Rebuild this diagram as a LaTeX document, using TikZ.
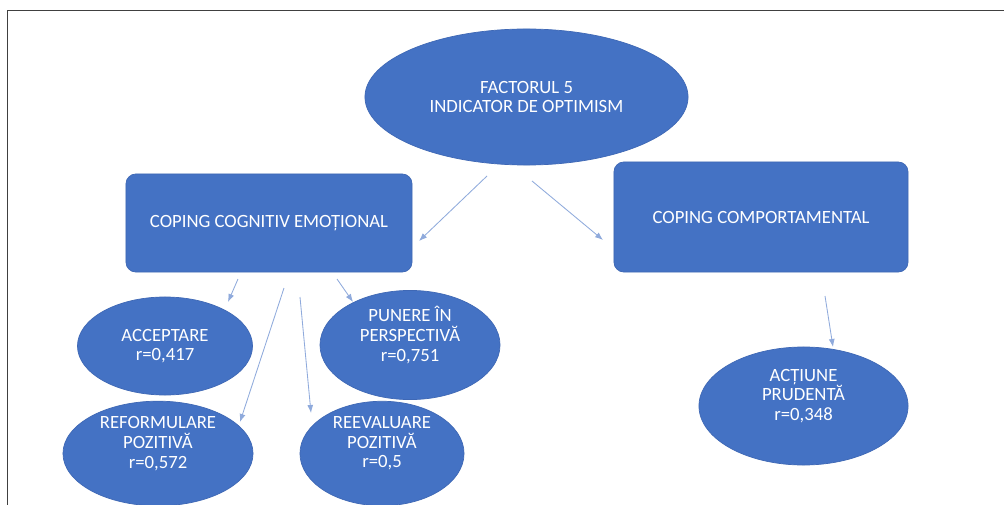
\documentclass[tikz,border=0pt]{standalone}
\usepackage{fontspec}
\setmainfont{Carlito}
\usetikzlibrary{arrows.meta,shapes.geometric}

\definecolor{fillblue}{HTML}{4472C4}
\definecolor{edgeblue}{HTML}{3F68B5}
\definecolor{linkblue}{HTML}{8FAADC}
\definecolor{framegray}{HTML}{404040}

\begin{document}
\begin{tikzpicture}[
    x=0.025cm,y=-0.025cm,
    every node/.style={font=\fontsize{13.3}{14}\selectfont,align=center,text=white},
    oval/.style={ellipse,draw=edgeblue,fill=fillblue,line width=0.5pt,inner sep=0pt},
    box/.style={draw=edgeblue,fill=fillblue,rounded corners=7pt,line width=0.5pt,inner sep=0pt},
    lifted/.style={text depth=16pt},
    arrow/.style={-{Latex[length=2mm,width=1.5mm]},draw=linkblue,line width=0.6pt},
    frame/.style={draw=framegray,line width=0.7pt}
]
\useasboundingbox[fill=white] (0,0) rectangle (1004,505);
\draw[frame] (7,505) -- (7,10) -- (1004,10);

% factor and the two coping groups
\node[oval,minimum width=8.075cm,minimum height=3.4cm] (factor) at (526.5,97) {FACTORUL 5\\INDICATOR DE OPTIMISM};
\node[box,minimum width=7.15cm,minimum height=2.45cm] (cogn) at (269,223) {COPING COGNITIV EMOȚIONAL};
\node[box,minimum width=7.35cm,minimum height=2.75cm] (comp) at (761,217) {COPING COMPORTAMENTAL};

% items with their correlations
\node[oval,minimum width=4.375cm,minimum height=2.45cm] (accept) at (165,346) {ACCEPTARE\\r=0,417};
\node[oval,lifted,minimum width=4.5cm,minimum height=2.5cm] (persp) at (410,345) {PUNERE ÎN\\PERSPECTIVĂ\\r=0,751};
\node[oval,lifted,minimum width=4.75cm,minimum height=2.075cm] (reform) at (158,453.5) {REFORMULARE\\POZITIVĂ\\r=0,572};
\node[oval,lifted,minimum width=4.1cm,minimum height=2.075cm] (reeval) at (382,453.5) {REEVALUARE\\POZITIVĂ\\r=0,5};
\node[oval,lifted,minimum width=5.225cm,minimum height=2.95cm] (action) at (803.5,406) {ACȚIUNE\\PRUDENTĂ\\r=0,348};

% loose arrow ends
\coordinate (f1) at (487,176);  \coordinate (f1e) at (419,241);
\coordinate (f2) at (532,181);  \coordinate (f2e) at (603,240);
\coordinate (c1) at (238,279);  \coordinate (c1e) at (228,302);
\coordinate (c2) at (284,288);  \coordinate (c2e) at (240,422);
\coordinate (c3) at (300,297);  \coordinate (c3e) at (311,413);
\coordinate (c4) at (337,279);  \coordinate (c4e) at (353,302);
\coordinate (p1) at (825,296);  \coordinate (p1e) at (833,347);

\draw[arrow] (f1) -- (f1e);
\draw[arrow] (f2) -- (f2e);
\draw[arrow] (c1) -- (c1e);
\draw[arrow] (c2) -- (c2e);
\draw[arrow] (c3) -- (c3e);
\draw[arrow] (c4) -- (c4e);
\draw[arrow] (p1) -- (p1e);
\end{tikzpicture}
\end{document}
